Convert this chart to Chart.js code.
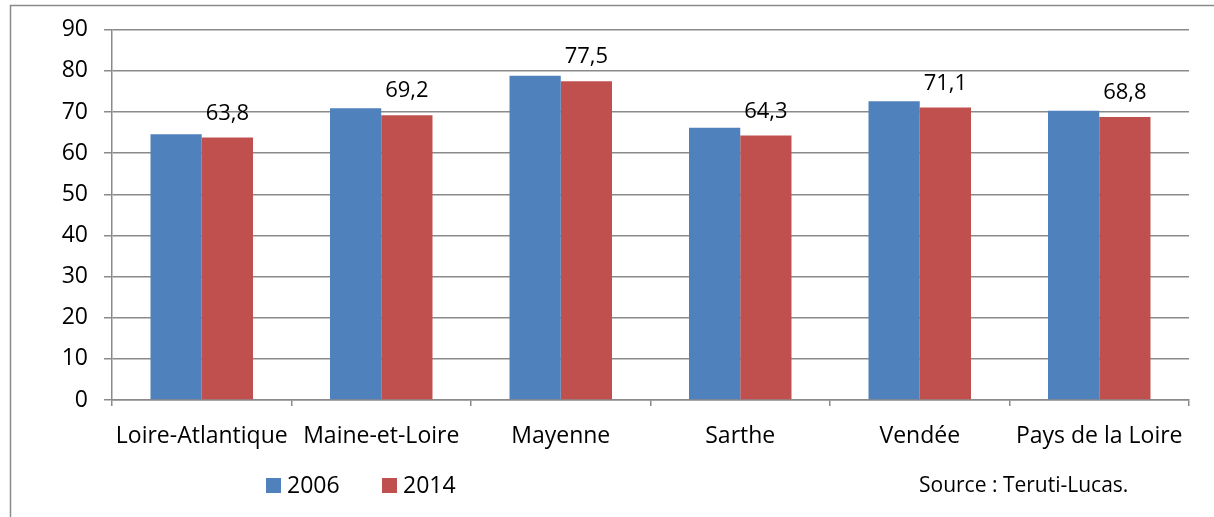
<!DOCTYPE html>
<html lang="fr">
<head>
  <meta charset="utf-8">
  <title>Pays de la Loire 2006 / 2014</title>
  <style type="text/css">
  body { margin: 0; background: #ffffff; }
  #wrap { width: 1214px; height: 517px; position: relative; }
  </style>
</head>
<body>

<div id="wrap">
  <canvas id="myChart"></canvas>
</div>

<script src="https://cdn.jsdelivr.net/npm/chart.js"></script>

<script>

  const categories = ['Loire-Atlantique', 'Maine-et-Loire', 'Mayenne', 'Sarthe', 'Vendée', 'Pays de la Loire'];
  const values2006 = [64.6, 70.9, 78.8, 66.2, 72.6, 70.3];
  const values2014 = [63.8, 69.2, 77.5, 64.3, 71.1, 68.8];
  const seriesNames = ['2006', '2014'];
  const yTicks = [0, 10, 20, 30, 40, 50, 60, 70, 80, 90];
  const sourceText = 'Source : Teruti-Lucas.';

  const FONT = '"Open Sans"';
  const GRID = '#8a8a8a';
  const ctx = document.getElementById('myChart');

  // frame of the chart (only top and left edges are visible)
  const framePlugin = {
    id: 'frame',
    beforeDraw: (chart) => {
      const c = chart.ctx;
      c.save();
      c.strokeStyle = GRID;
      c.lineWidth = 1.5;
      c.beginPath();
      c.moveTo(10.5, chart.height);
      c.lineTo(10.5, 5.5);
      c.lineTo(chart.width, 5.5);
      c.stroke();
      c.restore();
    }
  };

  // value labels above the 2014 bars
  const labelPlugin = {
    id: 'vlabels',
    afterDatasetsDraw: (chart) => {
      const c = chart.ctx;
      const meta = chart.getDatasetMeta(1);
      c.save();
      c.font = '22px ' + FONT;
      c.fillStyle = '#000000';
      c.textAlign = 'center';
      c.textBaseline = 'alphabetic';
      meta.data.forEach((bar, i) => {
        const v = chart.data.datasets[1].data[i];
        c.fillText(v.toFixed(1).replace('.', ','), bar.x, bar.y - 18);
      });
      c.restore();
    }
  };

  // legend + source note under the axis
  const legendPlugin = {
    id: 'legendx',
    afterDraw: (chart) => {
      const c = chart.ctx;
      c.save();
      c.textBaseline = 'middle';
      c.textAlign = 'left';
      let x = 266;
      const y = 486;
      chart.data.datasets.forEach((ds) => {
        c.fillStyle = ds.backgroundColor;
        c.fillRect(x, y - 8, 15, 15);
        c.fillStyle = '#000000';
        c.font = '23px ' + FONT;
        c.fillText(ds.label, x + 21, y);
        x += 116;
      });
      c.font = '21px ' + FONT;
      c.fillText(sourceText, 919, y);
      c.restore();
    }
  };

  const our_chart = new Chart(ctx, {
    type: 'bar',
    data: {
      labels: categories,
      datasets: [{
        label: seriesNames[0],
        data: values2006,
        backgroundColor: '#4f81bd',
        borderWidth: 0,
        categoryPercentage: 0.571,
        barPercentage: 1.0
      }, {
        label: seriesNames[1],
        data: values2014,
        backgroundColor: '#c0504d',
        borderWidth: 0,
        categoryPercentage: 0.571,
        barPercentage: 1.0
      }]
    },
    plugins: [framePlugin, labelPlugin, legendPlugin],
    options: {
      responsive: true,
      maintainAspectRatio: false,
      animation: false,
      layout: {
        padding: { left: 0, right: 25, top: 27, bottom: 0 }
      },
      plugins: {
        legend: { display: false },
        tooltip: { enabled: false }
      },
      scales: {
        x: {
          grid: {
            drawOnChartArea: false,
            drawTicks: true,
            tickLength: 6,
            color: GRID,
            lineWidth: 1.5
          },
          border: { display: true, color: GRID, width: 1.5 },
          ticks: {
            color: '#000000',
            font: { family: FONT, size: 23 },
            padding: 17,
            maxRotation: 0,
            autoSkip: false
          },
          afterFit: (axis) => { axis.height = 117; }
        },
        y: {
          min: 0,
          max: 90,
          afterBuildTicks: (axis) => { axis.ticks = yTicks.map(v => ({ value: v })); },
          grid: {
            color: GRID,
            lineWidth: 1.5,
            tickLength: 8
          },
          border: { display: true, color: GRID, width: 1.5 },
          ticks: {
            color: '#000000',
            font: { family: FONT, size: 23 },
            padding: 16
          },
          afterFit: (axis) => { axis.width = 112; }
        }
      }
    }
  });

</script>
</body>
</html>
